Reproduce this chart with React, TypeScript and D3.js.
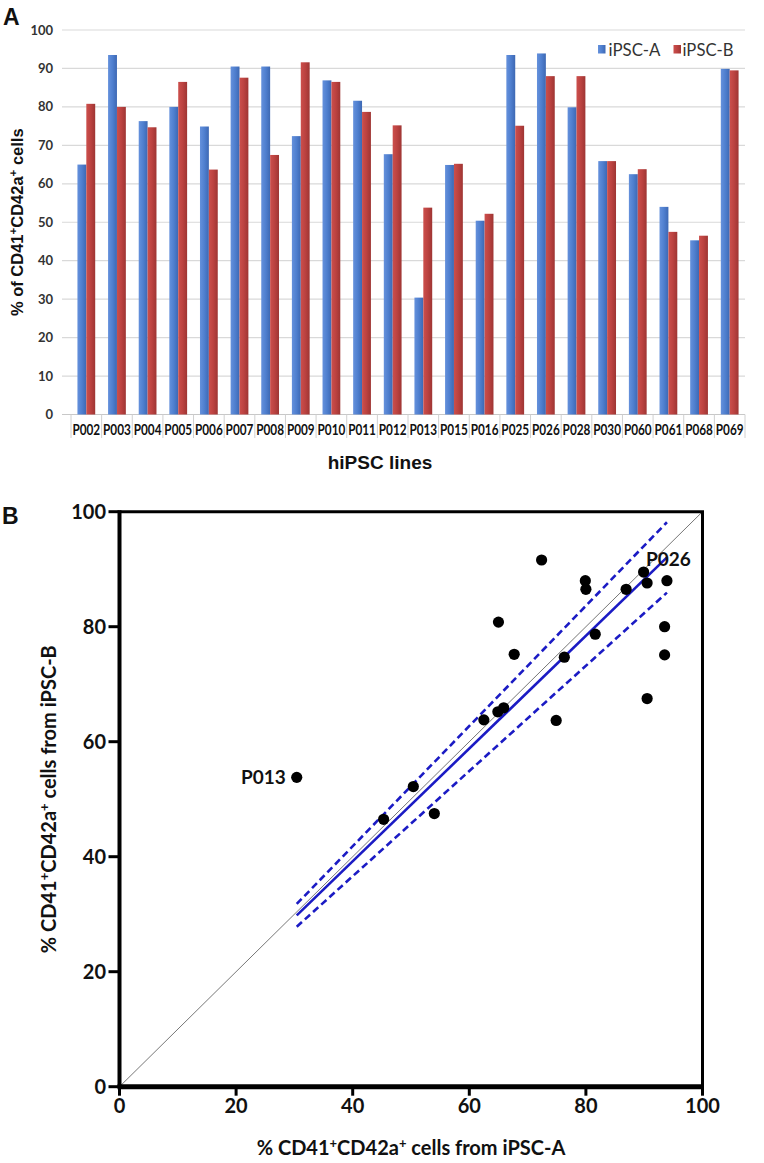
import React from "react";
import * as d3 from "d3";

// ---------- data ----------
const categories = [
  "P002", "P003", "P004", "P005", "P006", "P007", "P008", "P009", "P010", "P011", "P012",
  "P013", "P015", "P016", "P025", "P026", "P028", "P030", "P060", "P061", "P068", "P069",
];
const iPSCA = [65.0, 93.5, 76.3, 80.0, 74.9, 90.5, 90.5, 72.4, 86.9, 81.6, 67.7, 30.4, 64.9, 50.4, 93.5, 93.9, 79.9, 65.9, 62.5, 54.0, 45.3, 89.9];
const iPSCB = [80.8, 80.0, 74.7, 86.5, 63.7, 87.6, 67.5, 91.6, 86.5, 78.7, 75.2, 53.8, 65.2, 52.2, 75.1, 88.0, 88.0, 65.9, 63.8, 47.5, 46.5, 89.5];
const seriesNames = ["iPSC-A", "iPSC-B"];
const barTicks = [0, 10, 20, 30, 40, 50, 60, 70, 80, 90, 100];
const scatterTicks = [0, 20, 40, 60, 80, 100];
const labelledLines = ["P013", "P026"];
const T_CRIT = 2.08; // t(0.975, df = 21)

// ---------- layout ----------
const W = 764;
const H = 1163;

export default function App() {
  // ===== Panel A =====
  const xA = d3.scaleBand<string>().domain(categories).range([71, 745]).padding(0);
  const bw = xA.bandwidth();
  const xSub = d3.scaleBand<string>().domain(seriesNames).range([bw * 0.21, bw * 0.79]).padding(0);
  const yA = d3.scaleLinear().domain([0, 100]).range([414.5, 30]);
  const gridX0 = 62;

  // ===== Panel B =====
  const xB = d3.scaleLinear().domain([0, 100]).range([119.5, 702.5]);
  const yB = d3.scaleLinear().domain([0, 100]).range([1086.7, 511.7]);
  const pts = categories.map((c, i) => ({ c, a: iPSCA[i], b: iPSCB[i] }));
  // regression through the origin with 95% confidence band
  const sAB = d3.sum(pts, (p) => p.a * p.b);
  const sAA = d3.sum(pts, (p) => p.a * p.a);
  const slope = sAB / sAA;
  const ssr = d3.sum(pts, (p) => (p.b - slope * p.a) ** 2);
  const se = Math.sqrt(ssr / (pts.length - 1) / sAA);
  const [minA, maxA] = d3.extent(pts, (p) => p.a) as [number, number];
  const lineGen = d3
    .line<[number, number]>()
    .x((d) => xB(d[0]))
    .y((d) => yB(d[1]));
  const segment = (k: number) => lineGen([[minA, k * minA], [maxA, k * maxA]]) || "";

  const blue = "#1b1bc4";
  const calibri = "Lato, 'Open Sans', sans-serif";
  const arial = "'Liberation Sans', Arial, sans-serif";

  return (
    <svg
      width={W}
      height={H}
      viewBox={`0 0 ${W} ${H}`}
      style={{ position: "absolute", left: 0, top: 0, background: "#fff" }}
    >
      <defs>
        <linearGradient id="gBlue" x1="0" x2="1" y1="0" y2="0">
          <stop offset="0" stopColor="#6591dc" />
          <stop offset="0.5" stopColor="#4f7fcf" />
          <stop offset="1" stopColor="#3d68b3" />
        </linearGradient>
        <linearGradient id="gRed" x1="0" x2="1" y1="0" y2="0">
          <stop offset="0" stopColor="#cc4f4c" />
          <stop offset="0.5" stopColor="#bb4240" />
          <stop offset="1" stopColor="#9e3533" />
        </linearGradient>
      </defs>

      {/* ================= Panel A ================= */}
      <text x={3} y={25} fontFamily={arial} fontWeight="bold" fontSize={23} fill="#111">A</text>

      {barTicks.map((t) => (
        <g key={"ga" + t}>
          <line x1={gridX0} x2={745} y1={yA(t)} y2={yA(t)} stroke={t === 0 ? "#c8c8c8" : "#d9d9d9"} strokeWidth={1.2} />
          <text x={53} y={yA(t) + 4.5} textAnchor="end" fontFamily={calibri} fontWeight="bold" fontSize={13} fill="#333">
            {t}
          </text>
        </g>
      ))}

      {d3.range(categories.length + 1).map((i) => {
        const x = 71 + i * bw;
        return <line key={"sep" + i} x1={x} x2={x} y1={yA(0)} y2={438} stroke="#d0d0d0" strokeWidth={1} />;
      })}

      {categories.map((c, i) => (
        <g key={"bar" + c} transform={`translate(${xA(c)},0)`}>
          <rect x={xSub("iPSC-A")} y={yA(iPSCA[i])} width={xSub.bandwidth()} height={yA(0) - yA(iPSCA[i])} fill="url(#gBlue)" />
          <rect x={xSub("iPSC-B")} y={yA(iPSCB[i])} width={xSub.bandwidth()} height={yA(0) - yA(iPSCB[i])} fill="url(#gRed)" />
          <text
            transform={`translate(${bw / 2},434.5) scale(0.76,1)`}
            textAnchor="middle"
            fontFamily={calibri}
            fontWeight="bold"
            fontSize={15.5}
            fill="#111"
          >
            {c}
          </text>
        </g>
      ))}

      {/* legend */}
      <rect x={598} y={45} width={7.5} height={8.5} fill="url(#gBlue)" />
      <text x={608.5} y={55.5} fontFamily={calibri} fontSize={17} textLength={52} lengthAdjust="spacingAndGlyphs" fill="#333">
        {seriesNames[0]}
      </text>
      <rect x={673.5} y={45} width={7.5} height={8.5} fill="url(#gRed)" />
      <text x={682.5} y={55.5} fontFamily={calibri} fontSize={17} textLength={51} lengthAdjust="spacingAndGlyphs" fill="#333">
        {seriesNames[1]}
      </text>

      {/* axis titles A */}
      <text x={380} y={469} textAnchor="middle" fontFamily={arial} fontWeight="bold" fontSize={19} fill="#111">
        hiPSC lines
      </text>
      <text
        transform={`translate(23,${(yA(0) + yA(100)) / 2}) rotate(-90)`}
        textAnchor="middle"
        fontFamily={arial}
        fontWeight="bold"
        fontSize={16.5}
        fill="#111"
      >
        % of CD41<tspan dy={-6} fontSize={11.5}>+</tspan>
        <tspan dy={6}>CD42a</tspan>
        <tspan dy={-6} fontSize={11.5}>+</tspan>
        <tspan dy={6}> cells</tspan>
      </text>

      {/* ================= Panel B ================= */}
      <text x={2} y={524} fontFamily={arial} fontWeight="bold" fontSize={23} fill="#111">B</text>

      {/* identity line */}
      <line x1={xB(0)} y1={yB(0)} x2={xB(100)} y2={yB(100)} stroke="#777" strokeWidth={1} />

      {/* regression + 95% CI */}
      <path d={segment(slope + T_CRIT * se)} fill="none" stroke={blue} strokeWidth={2.6} strokeDasharray="7,4" />
      <path d={segment(slope - T_CRIT * se)} fill="none" stroke={blue} strokeWidth={2.6} strokeDasharray="7,4" />
      <path d={segment(slope)} fill="none" stroke={blue} strokeWidth={2.6} />

      {/* points */}
      {pts.map((p) => (
        <circle key={"pt" + p.c} cx={xB(p.a)} cy={yB(p.b)} r={5.6} fill="#000" />
      ))}

      {/* point labels */}
      {pts
        .filter((p) => labelledLines.includes(p.c))
        .map((p) =>
          p.a < 50 ? (
            <text key={"lb" + p.c} x={xB(p.a) - 11} y={yB(p.b) + 6.5} textAnchor="end" fontFamily={calibri} fontWeight="bold" fontSize={19} fill="#111">
              {p.c}
            </text>
          ) : (
            <text key={"lb" + p.c} x={xB(p.a) - 21} y={yB(p.b) - 15} textAnchor="start" fontFamily={calibri} fontWeight="bold" fontSize={19} fill="#111">
              {p.c}
            </text>
          )
        )}

      {/* frame */}
      <line x1={xB(0)} x2={xB(100) + 1.5} y1={yB(100)} y2={yB(100)} stroke="#000" strokeWidth={3} />
      <line x1={xB(100)} x2={xB(100)} y1={yB(100)} y2={yB(0)} stroke="#000" strokeWidth={3} />
      <line x1={xB(0)} x2={xB(0)} y1={yB(100) - 1.5} y2={yB(0)} stroke="#000" strokeWidth={4} />
      <line x1={xB(0) - 2} x2={xB(100) + 1.5} y1={yB(0)} y2={yB(0)} stroke="#000" strokeWidth={5} />

      {/* ticks B */}
      {scatterTicks.map((t) => (
        <g key={"tb" + t}>
          <line x1={xB(0) - 11} x2={xB(0)} y1={yB(t)} y2={yB(t)} stroke="#000" strokeWidth={3} />
          <text x={106} y={yB(t) + 7} textAnchor="end" fontFamily={calibri} fontWeight="bold" fontSize={20} fill="#111">
            {t}
          </text>
          <line x1={xB(t)} x2={xB(t)} y1={yB(0)} y2={yB(0) + 9} stroke="#000" strokeWidth={3} />
          <text x={xB(t)} y={1113} textAnchor="middle" fontFamily={calibri} fontWeight="bold" fontSize={20} fill="#111">
            {t}
          </text>
        </g>
      ))}

      {/* axis titles B */}
      <text
        x={411}
        y={1155}
        textAnchor="middle"
        fontFamily={calibri}
        fontWeight="bold"
        fontSize={20}
        fill="#111"
      >
        % CD41<tspan dy={-7} fontSize={13}>+</tspan>
        <tspan dy={7}>CD42a</tspan>
        <tspan dy={-7} fontSize={13}>+</tspan>
        <tspan dy={7}> cells from iPSC-A</tspan>
      </text>
      <text
        transform={`translate(56,${(yB(0) + yB(100)) / 2}) rotate(-90)`}
        textAnchor="middle"
        fontFamily={calibri}
        fontWeight="bold"
        fontSize={20}
        fill="#111"
      >
        % CD41<tspan dy={-7} fontSize={13}>+</tspan>
        <tspan dy={7}>CD42a</tspan>
        <tspan dy={-7} fontSize={13}>+</tspan>
        <tspan dy={7}> cells from iPSC-B</tspan>
      </text>
    </svg>
  );
}
